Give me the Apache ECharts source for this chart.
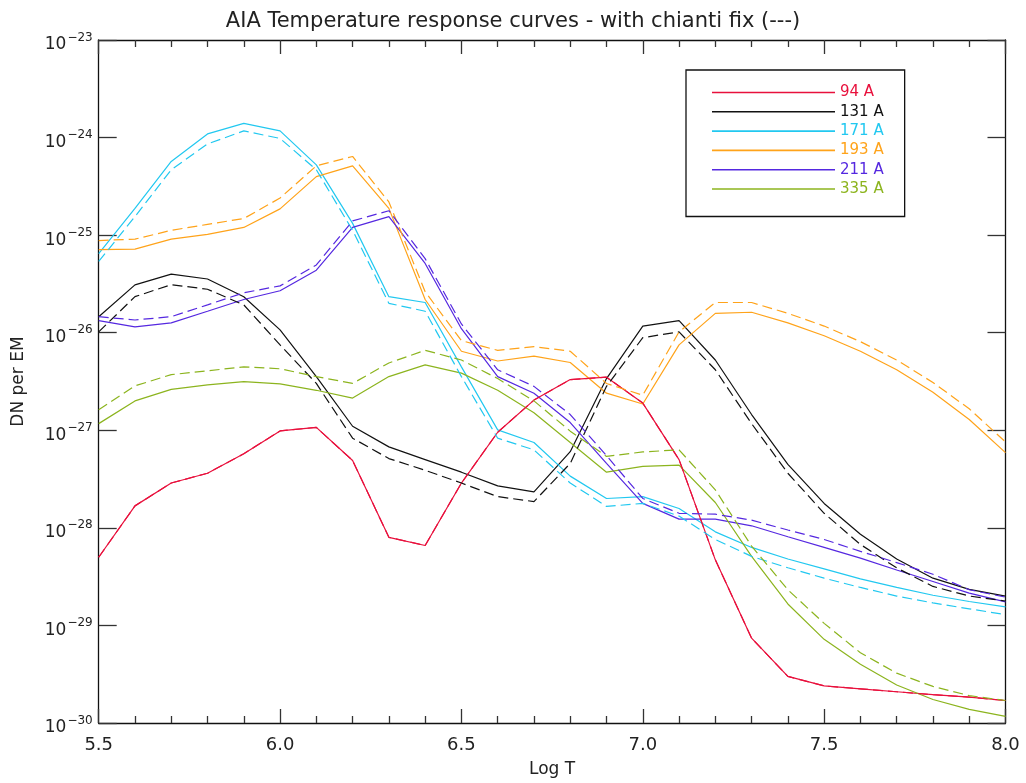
<!DOCTYPE html>
<html>
<head>
<meta charset="utf-8">
<script src="https://cdn.jsdelivr.net/npm/echarts@6/dist/echarts.min.js"></script>
<style>
  html, body { margin: 0; padding: 0; background: #fff; }
  #chart { width: 1026px; height: 783px; }
</style>
</head>
<body>
<div id="chart"></div>
<script>
// Log T grid, 5.5 .. 8.0 step 0.1
const logT = [5.5, 5.6, 5.7, 5.8, 5.9, 6.0, 6.1, 6.2, 6.3, 6.4, 6.5, 6.6, 6.7,
  6.8, 6.9, 7.0, 7.1, 7.2, 7.3, 7.4, 7.5, 7.6, 7.7, 7.8, 7.9, 8.0]

const yTickExponents = [-30, -29, -28, -27, -26, -25, -24, -23]
const xTickLabels = ['5.5', '6.0', '6.5', '7.0', '7.5', '8.0']

const channels = ['94 A', '131 A', '171 A', '193 A', '211 A', '335 A']
const colors = ['#e8103c', '#111111', '#22c8f0', '#ffa31a', '#5528e0', '#8cb41e']

// solid = current response, dashed = with chianti fix
const r94 = [5.0e-29, 1.68e-28, 2.88e-28, 3.63e-28, 5.75e-28, 9.86e-28, 1.07e-27, 4.9e-28, 8.0e-29, 6.6e-29,
  2.88e-28, 9.55e-28, 2.04e-27, 3.31e-27, 3.5e-27, 1.9e-27, 5.0e-28, 4.7e-29, 7.4e-30, 3.0e-30,
  2.4e-30, 2.24e-30, 2.09e-30, 1.95e-30, 1.84e-30, 1.70e-30]
const r94fix = [5.0e-29, 1.68e-28, 2.88e-28, 3.63e-28, 5.75e-28, 9.86e-28, 1.07e-27, 4.9e-28, 8.0e-29, 6.6e-29,
  2.88e-28, 9.55e-28, 2.04e-27, 3.31e-27, 3.5e-27, 1.9e-27, 5.0e-28, 4.7e-29, 7.4e-30, 3.0e-30,
  2.4e-30, 2.24e-30, 2.09e-30, 1.95e-30, 1.84e-30, 1.70e-30]

const r131 = [1.46e-26, 3.09e-26, 3.98e-26, 3.55e-26, 2.34e-26, 1.07e-26, 3.55e-27, 1.10e-27, 6.76e-28, 5.0e-28,
  3.72e-28, 2.69e-28, 2.34e-28, 6.03e-28, 3.39e-27, 1.17e-26, 1.33e-26, 5.25e-27, 1.45e-27, 4.47e-28,
  1.78e-28, 8.6e-29, 4.8e-29, 3.05e-29, 2.34e-29, 2.0e-29]
const r131fix = [1.02e-26, 2.34e-26, 3.11e-26, 2.79e-26, 1.93e-26, 7.5e-27, 3.02e-27, 8.3e-28, 5.13e-28, 3.89e-28,
  2.88e-28, 2.09e-28, 1.86e-28, 4.57e-28, 2.82e-27, 8.9e-27, 1.02e-26, 4.17e-27, 1.17e-27, 3.63e-28,
  1.41e-28, 6.76e-29, 3.89e-29, 2.51e-29, 2.0e-29, 1.78e-29]

const r171 = [6.46e-26, 1.88e-25, 5.69e-25, 1.09e-24, 1.40e-24, 1.17e-24, 5.25e-25, 1.32e-25, 2.34e-26, 2.04e-26,
  4.47e-27, 1.01e-27, 7.5e-28, 3.39e-28, 2.0e-28, 2.09e-28, 1.58e-28, 9.1e-29, 6.3e-29, 4.8e-29,
  3.8e-29, 3.0e-29, 2.45e-29, 2.04e-29, 1.76e-29, 1.55e-29]
const r171fix = [5.37e-26, 1.55e-25, 4.68e-25, 8.6e-25, 1.17e-24, 9.8e-25, 4.68e-25, 1.12e-25, 2.0e-26, 1.66e-26,
  3.55e-27, 8.3e-28, 6.3e-28, 2.88e-28, 1.66e-28, 1.78e-28, 1.32e-28, 7.6e-29, 5.1e-29, 3.9e-29,
  3.05e-29, 2.45e-29, 2.0e-29, 1.70e-29, 1.48e-29, 1.29e-29]

const r193 = [7.1e-26, 7.2e-26, 9.1e-26, 1.02e-25, 1.20e-25, 1.86e-25, 3.98e-25, 5.13e-25, 1.88e-25, 2.19e-26,
  6.46e-27, 5.13e-27, 5.75e-27, 4.95e-27, 2.40e-27, 1.86e-27, 7.5e-27, 1.58e-26, 1.62e-26, 1.26e-26,
  9.3e-27, 6.46e-27, 4.17e-27, 2.45e-27, 1.29e-27, 5.9e-28]
const r193fix = [8.8e-26, 9.1e-26, 1.12e-25, 1.29e-25, 1.48e-25, 2.40e-25, 5.13e-25, 6.4e-25, 2.19e-25, 2.63e-26,
  8.3e-27, 6.6e-27, 7.2e-27, 6.46e-27, 3.02e-27, 2.29e-27, 1.02e-26, 2.04e-26, 2.04e-26, 1.58e-26,
  1.17e-26, 8.1e-27, 5.25e-27, 3.09e-27, 1.66e-27, 7.6e-28]

const r211 = [1.33e-26, 1.15e-26, 1.26e-26, 1.66e-26, 2.19e-26, 2.69e-26, 4.37e-26, 1.20e-25, 1.55e-25, 5.13e-26,
  1.10e-26, 3.55e-27, 2.40e-27, 1.20e-27, 4.57e-28, 1.78e-28, 1.23e-28, 1.23e-28, 1.05e-28, 8.1e-29,
  6.3e-29, 4.9e-29, 3.7e-29, 2.82e-29, 2.14e-29, 1.74e-29]
const r211fix = [1.46e-26, 1.35e-26, 1.46e-26, 1.93e-26, 2.57e-26, 3.02e-26, 4.95e-26, 1.40e-25, 1.78e-25, 5.75e-26,
  1.23e-26, 4.17e-27, 2.82e-27, 1.45e-27, 5.5e-28, 2.0e-28, 1.41e-28, 1.38e-28, 1.20e-28, 9.5e-29,
  7.6e-29, 5.75e-29, 4.4e-29, 3.35e-29, 2.32e-29, 1.95e-29]

const r335 = [1.17e-27, 2.0e-27, 2.63e-27, 2.92e-27, 3.16e-27, 2.99e-27, 2.57e-27, 2.14e-27, 3.55e-27, 4.68e-27,
  3.85e-27, 2.57e-27, 1.51e-27, 7.5e-28, 3.72e-28, 4.27e-28, 4.4e-28, 1.82e-28, 5.1e-29, 1.66e-29,
  7.2e-30, 4.0e-30, 2.45e-30, 1.74e-30, 1.38e-30, 1.17e-30]
const r335fix = [1.62e-27, 2.85e-27, 3.72e-27, 4.07e-27, 4.47e-27, 4.27e-27, 3.55e-27, 3.02e-27, 4.9e-27, 6.6e-27,
  5.25e-27, 3.39e-27, 2.0e-27, 9.8e-28, 5.4e-28, 6.0e-28, 6.3e-28, 2.45e-28, 6.5e-29, 2.32e-29,
  1.05e-29, 5.25e-30, 3.24e-30, 2.37e-30, 1.91e-30, 1.70e-30]

const solidData = [r94, r131, r171, r193, r211, r335]
const fixData = [r94fix, r131fix, r171fix, r193fix, r211fix, r335fix]

const fontFamily = 'DejaVu Sans'
const textColor = '#222'

// echarts log axis rounds tiny numbers to 0, so plot log10(value) on a linear axis
function pairs(values) {
  return values.map((v, i) => [logT[i], Math.log10(v)])
}

const chart = echarts.init(document.getElementById('chart'))

const series = []
channels.forEach((name, i) => {
  series.push({
    name,
    type: 'line',
    data: pairs(solidData[i]),
    symbol: 'none',
    silent: true,
    color: colors[i],
    lineStyle: { color: colors[i], width: 1.2 }
  })
})
channels.forEach((name, i) => {
  series.push({
    name: name + ' fix',
    type: 'line',
    data: pairs(fixData[i]),
    symbol: 'none',
    silent: true,
    color: colors[i],
    lineStyle: { color: colors[i], width: 1.2, type: [10, 5] }
  })
})

const axisLine = { show: true, onZero: false, lineStyle: { color: '#111', width: 1.3 } }
const tickLine = { color: '#333', width: 1.3 }

const option = {
  backgroundColor: '#fff',
  animation: false,
  title: {
    text: 'AIA Temperature response curves - with chianti fix (---)',
    left: 'center',
    top: 6,
    textStyle: { fontFamily, fontSize: 21, fontWeight: 'normal', color: textColor }
  },
  grid: { left: 98.7, right: 20.5, top: 40, bottom: 60, outerBoundsMode: 'none' },
  legend: {
    orient: 'vertical',
    left: 686,
    top: 70,
    data: channels.map((name, i) => ({ name, textStyle: { color: colors[i] } })),
    icon: 'rect',
    itemWidth: 123,
    itemHeight: 1.6,
    itemGap: 4.3,
    padding: [15, 21, 20, 26],
    borderColor: '#111',
    borderWidth: 1.3,
    backgroundColor: '#fff',
    selectedMode: false,
    textStyle: { fontFamily, fontSize: 15, padding: [0, 0, 8, 0] }
  },
  xAxis: [
    {
      type: 'value',
      min: 5.5,
      max: 8.0,
      interval: 0.5,
      position: 'bottom',
      name: 'Log T',
      nameLocation: 'middle',
      nameGap: 38,
      nameTextStyle: { fontFamily, fontSize: 17, color: textColor },
      axisLine,
      axisTick: { show: true, inside: true, length: 14, lineStyle: tickLine },
      minorTick: { show: true, splitNumber: 5, length: 7, lineStyle: tickLine },
      splitLine: { show: false },
      axisLabel: {
        margin: 13,
        fontFamily,
        fontSize: 18,
        color: textColor,
        formatter: (v) => xTickLabels[Math.round((v - 5.5) / 0.5)] ?? ''
      }
    },
    {
      type: 'value',
      min: 5.5,
      max: 8.0,
      interval: 0.5,
      position: 'top',
      axisLine,
      axisTick: { show: true, inside: true, length: 14, lineStyle: tickLine },
      minorTick: { show: true, splitNumber: 5, length: 7, lineStyle: tickLine },
      splitLine: { show: false },
      axisLabel: { show: false }
    }
  ],
  yAxis: [
    {
      type: 'value',
      min: -30,
      max: -23,
      interval: 1,
      position: 'left',
      name: 'DN per EM',
      nameLocation: 'middle',
      nameGap: 72,
      nameTextStyle: { fontFamily, fontSize: 17, color: textColor },
      axisLine,
      axisTick: { show: true, inside: true, length: 18, lineStyle: tickLine },
      splitLine: { show: false },
      axisLabel: {
        margin: 6,
        formatter: (v) => {
          const e = Math.round(v)
          if (!yTickExponents.includes(e)) return ''
          return '{b|10}{e|\u2212' + Math.abs(e) + '}'
        },
        rich: {
          b: { fontFamily, fontSize: 17, color: textColor, padding: [10, 0, 0, 0] },
          e: { fontFamily, fontSize: 12, color: textColor, padding: [0, 0, 5, 1] }
        }
      }
    },
    {
      type: 'value',
      min: -30,
      max: -23,
      interval: 1,
      position: 'right',
      axisLine,
      axisTick: { show: true, inside: true, length: 18, lineStyle: tickLine },
      splitLine: { show: false },
      axisLabel: { show: false }
    }
  ],
  series
}

chart.setOption(option)
</script>
</body>
</html>
